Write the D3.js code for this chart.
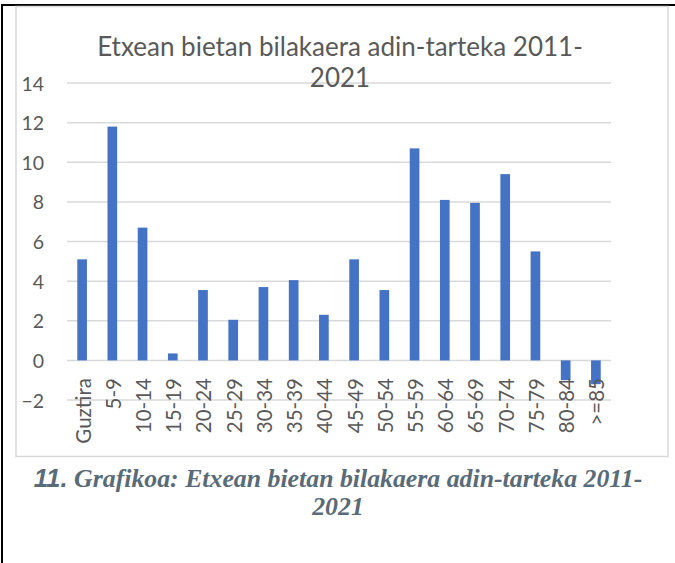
<!DOCTYPE html>
<html><head><meta charset="utf-8">
<script src="https://cdn.jsdelivr.net/npm/d3@7"></script>
<style>html,body{margin:0;padding:0;background:#fff;}svg{display:block;}</style>
</head><body>
<script>
const categories = ["Guztira","5-9","10-14","15-19","20-24","25-29","30-34","35-39","40-44","45-49","50-54","55-59","60-64","65-69","70-74","75-79","80-84",">=85"];
const values = [5.1,11.8,6.7,0.35,3.55,2.05,3.7,4.05,2.3,5.1,3.55,10.7,8.1,7.95,9.4,5.5,-1.0,-1.2];
const yTicks = [-2,0,2,4,6,8,10,12,14];
const titleLines = ["Etxean bietan bilakaera adin-tarteka 2011-","2021"];
const captionNum = "11.";
const captionLines = [" Grafikoa: Etxean bietan bilakaera adin-tarteka 2011-","2021"];

const W = 675, H = 563;
const svg = d3.select("body").append("svg").attr("width", W).attr("height", H);

// outer black borders
svg.append("rect").attr("x",1).attr("y",4).attr("width",2).attr("height",H-4).attr("fill","#000");
svg.append("rect").attr("x",1).attr("y",4).attr("width",W-1).attr("height",2).attr("fill","#000");

// chart box
svg.append("rect").attr("x",16).attr("y",6.5).attr("width",652).attr("height",450)
  .attr("fill","#fff").attr("stroke","#d9d9d9").attr("stroke-width",1.5);

const x = d3.scaleBand().domain(categories).range([67, 611]).paddingInner(0.68).paddingOuter(0.34);
const y = d3.scaleLinear().domain([-2, 14]).range([400, 83]);

const font = "Lato, 'Open Sans', sans-serif";
const grey = "#595959";

// gridlines
svg.append("g").selectAll("line").data(yTicks).join("line")
  .attr("x1",67).attr("x2",611)
  .attr("y1",d=>y(d)).attr("y2",d=>y(d))
  .attr("stroke","#d9d9d9").attr("stroke-width",1.5);

// y labels
const yAxis = d3.axisLeft(y).tickValues(yTicks).tickSize(0).tickPadding(0);
const yg = svg.append("g").attr("transform","translate(44,0)").call(yAxis);
yg.select(".domain").remove();
yg.selectAll("text").attr("fill",grey).attr("font-family",font).attr("font-size",19.5).attr("dy","0.36em");

// bars
svg.append("g").selectAll("rect").data(values).join("rect")
  .attr("x",(d,i)=>x(categories[i]))
  .attr("width",x.bandwidth())
  .attr("y",d=>y(Math.max(0,d)))
  .attr("height",d=>Math.abs(y(d)-y(0)))
  .attr("fill","#4472c4");

// x labels
svg.append("g").selectAll("text").data(categories).join("text")
  .attr("transform",d=>`translate(${x(d)+x.bandwidth()/2+1},378) rotate(-90)`)
  .attr("text-anchor","end").attr("dy","0.36em")
  .attr("fill",grey).attr("font-family",font).attr("font-size",20.5)
  .text(d=>d);

// title
svg.append("g").selectAll("text").data(titleLines).join("text")
  .attr("x",340).attr("y",(d,i)=>56+i*31)
  .attr("text-anchor","middle").attr("fill",grey).attr("font-family",font).attr("font-size",26)
  .text(d=>d);

// caption
const capColor = "#596b78";
const c1 = svg.append("text").attr("x",338).attr("y",487).attr("text-anchor","middle").attr("fill",capColor)
  .attr("font-weight","bold").attr("font-style","italic").attr("font-size",25.8);
c1.append("tspan").attr("font-family","'Liberation Sans', Arial, sans-serif").text(captionNum);
c1.append("tspan").attr("font-family","'Liberation Serif', 'Times New Roman', serif").text(captionLines[0]);
svg.append("text").attr("x",338).attr("y",515).attr("text-anchor","middle").attr("fill",capColor)
  .attr("font-weight","bold").attr("font-style","italic").attr("font-size",25.8)
  .attr("font-family","'Liberation Serif', 'Times New Roman', serif").text(captionLines[1]);
</script>
</body></html>
